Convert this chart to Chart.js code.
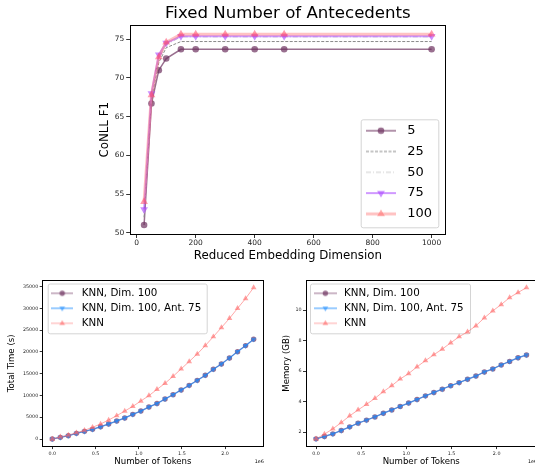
<!DOCTYPE html>
<html><head><meta charset="utf-8">
<script src="https://cdn.jsdelivr.net/npm/chart.js"></script>
<style>
html,body{margin:0;padding:0;width:535px;height:468px;overflow:hidden;background:#fff;}
canvas{position:absolute;}
</style></head><body>
<canvas id="top" width="535" height="268" style="left:0;top:0"></canvas>
<canvas id="bl" width="270" height="198" style="left:0;top:270px"></canvas>
<canvas id="br" width="285" height="198" style="left:270px;top:270px"></canvas>
<script>
// ---------- data ----------
const dims = [25, 50, 75, 100, 150, 200, 300, 400, 500, 1000];
const antLabels = ['5', '25', '50', '75', '100'];
const f1Ant5   = [51.0, 66.7, 71.0, 72.5, 73.7, 73.7, 73.7, 73.7, 73.7, 73.7];
const f1Ant25  = [52.0, 67.2, 72.0, 73.9, 74.7, 74.7, 74.7, 74.7, 74.7, 74.7];
const f1Ant50  = [52.5, 67.6, 72.5, 74.3, 75.3, 75.3, 75.3, 75.3, 75.3, 75.3];
const f1Ant75  = [53.0, 68.0, 73.0, 74.5, 75.4, 75.4, 75.4, 75.4, 75.4, 75.4];
const f1Ant100 = [54.0, 67.8, 72.7, 74.6, 75.65, 75.65, 75.65, 75.65, 75.65, 75.65];
const dimTicks = [0, 200, 400, 600, 800, 1000];
const f1Ticks = [50, 55, 60, 65, 70, 75];

const tokens = [0, 93200, 186400, 279600, 372800, 466000, 559200, 652400, 745600, 838800,
  932000, 1025200, 1118400, 1211600, 1304800, 1398000, 1491200, 1584400, 1677600, 1770800,
  1864000, 1957200, 2050400, 2143600, 2236800, 2330000];
const bottomLabels = ['KNN, Dim. 100', 'KNN, Dim. 100, Ant. 75', 'KNN'];
const timeDim100 = [0, 380, 770, 1300, 1760, 2220, 2830, 3450, 4140, 4830, 5670, 6430, 7350,
  8150, 9190, 10190, 11260, 12330, 13480, 14630, 16010, 17240, 18610, 20070, 21450, 22900];
const timeDim100Ant75 = [0, 380, 770, 1300, 1760, 2220, 2830, 3450, 4140, 4830, 5670, 6430, 7350,
  8150, 9190, 10190, 11260, 12330, 13480, 14630, 16010, 17240, 18610, 20070, 21450, 22900];
const timeKNN = [0, 500, 900, 1450, 2000, 2700, 3450, 4370, 5360, 6430, 7500, 8730, 9960,
  11400, 12800, 14400, 16100, 17800, 19530, 21450, 23500, 25600, 27700, 30000, 32250, 34780];
const memDim100 = [1.56, 1.72, 1.89, 2.11, 2.35, 2.59, 2.79, 3.00, 3.24, 3.46, 3.69, 3.91, 4.14,
  4.38, 4.60, 4.82, 5.05, 5.25, 5.47, 5.68, 5.95, 6.15, 6.41, 6.64, 6.88, 7.06];
const memDim100Ant75 = [1.56, 1.72, 1.89, 2.11, 2.35, 2.59, 2.79, 3.00, 3.24, 3.46, 3.69, 3.91, 4.14,
  4.38, 4.60, 4.82, 5.05, 5.25, 5.47, 5.68, 5.95, 6.15, 6.41, 6.64, 6.88, 7.06];
const memKNN = [1.56, 1.87, 2.22, 2.63, 3.07, 3.46, 3.83, 4.22, 4.66, 5.05, 5.49, 5.84, 6.29,
  6.69, 7.08, 7.45, 7.86, 8.26, 8.58, 8.98, 9.50, 9.96, 10.37, 10.83, 11.16, 11.48];
const tokenTicks = [0, 500000, 1000000, 1500000, 2000000];
const timeTicks = [0, 5000, 10000, 15000, 20000, 25000, 30000, 35000];
const memTicks = [2, 4, 6, 8, 10];

// ---------- styling helpers ----------
Chart.defaults.font.family = "'DejaVu Sans', 'Liberation Sans', sans-serif";
Chart.defaults.color = '#000';
const pts = (xs, ys) => xs.map((x, i) => ({x, y: ys[i]}));

const C = {
  mauve: 'rgba(110,50,95,0.7)',
  gray: '#8a8a8a',
  light: '#cfcfcf',
  purpleL: 'rgba(170,70,255,0.55)',
  purpleM: 'rgba(170,70,255,0.6)',
  pinkL: 'rgba(255,110,110,0.42)',
  pinkM: 'rgba(255,75,110,0.55)',
  blueL: 'rgba(30,140,255,0.6)',
  blueM: 'rgba(30,140,255,0.6)',
  salmonL: 'rgba(255,100,100,0.55)',
  salmonM: 'rgba(255,100,100,0.6)'
};

function drawMarker(x, cx, cy, kind, r) {
  x.beginPath();
  if (kind === 'circle') { x.arc(cx, cy, r, 0, Math.PI * 2); }
  else {
    const s = kind === 'up' ? 1 : -1, k = Math.sin(Math.PI / 3) * r;
    x.moveTo(cx, cy - s * r); x.lineTo(cx + k, cy + s * r / 2); x.lineTo(cx - k, cy + s * r / 2); x.closePath();
  }
  x.fill();
}
function swatch(w, o) {
  const c = document.createElement('canvas'); c.width = w; c.height = 16;
  const x = c.getContext('2d');
  x.strokeStyle = o.color; x.lineWidth = o.lw; x.setLineDash(o.dash || []);
  x.beginPath(); x.moveTo(0, 8); x.lineTo(w, 8); x.stroke(); x.setLineDash([]);
  if (o.marker) { x.fillStyle = o.mcolor; drawMarker(x, w / 2, 8, o.marker, o.r); }
  return c;
}
function legendItems(labels, sw) {
  return () => labels.map((t, i) => ({text: t, pointStyle: sw[i], fillStyle: 'rgba(0,0,0,0)',
    strokeStyle: 'rgba(0,0,0,0)', lineWidth: 0, hidden: false, datasetIndex: i, fontColor: '#000'}));
}
const spines = {id: 'spines', afterDatasetsDraw(chart) {
  const {ctx, chartArea: a} = chart; ctx.save(); ctx.strokeStyle = '#000'; ctx.lineWidth = 1;
  const l = Math.round(a.left) + 0.5, t = Math.round(a.top) + 0.5, r = Math.round(a.right) - 0.5, b = Math.round(a.bottom) - 0.5;
  ctx.strokeRect(l, t, r - l, b - t); ctx.restore();
}};
function frameAndPlace(frame, lx, ly) {
  return {id: 'frameAndPlace',
    afterLayout(chart) { const lg = chart.legend; const w = lg.width, h = lg.height;
      lg.left = lx; lg.top = ly; lg.right = lx + w; lg.bottom = ly + h; },
    beforeDraw(chart) { const ctx = chart.ctx; const [x0, y0, x1, y1] = frame; ctx.save();
      ctx.fillStyle = 'rgba(255,255,255,0.8)'; ctx.strokeStyle = '#d4d4d4'; ctx.lineWidth = 1;
      ctx.beginPath(); ctx.roundRect(x0 + 0.5, y0 + 0.5, x1 - x0, y1 - y0, 2); ctx.fill(); ctx.stroke(); ctx.restore(); }
  };
}
const setTicks = arr => s => { s.ticks = arr.map(v => ({value: v})); };
function axis(o) {
  return {type: 'linear', min: o.min, max: o.max, position: o.pos,
    afterBuildTicks: setTicks(o.ticks),
    afterFit: o.pos === 'left' ? (s => { s.width = o.size; }) : (s => { s.height = o.size; }),
    grid: {display: true, drawOnChartArea: false, drawTicks: true, tickLength: o.tl, color: '#000', lineWidth: 0.8},
    border: {display: false},
    ticks: {font: {size: o.fs}, padding: o.tp, color: '#222', autoSkip: false, maxRotation: 0,
      callback: o.fmt || (v => String(v))},
    title: {display: true, text: o.title, font: {size: o.tfs}, color: '#000', padding: o.tpad}
  };
}

// ---------- top chart ----------
const topSw = [
  swatch(30, {color: C.mauve, lw: 1.5, marker: 'circle', mcolor: C.mauve, r: 3.3}),
  swatch(30, {color: C.gray, lw: 1, dash: [3, 1.5]}),
  swatch(30, {color: C.light, lw: 1, dash: [5, 2, 1, 2]}),
  swatch(30, {color: C.purpleL, lw: 2, marker: 'down', mcolor: C.purpleM, r: 4.5}),
  swatch(30, {color: C.pinkL, lw: 3, marker: 'up', mcolor: 'rgba(255,110,110,0.55)', r: 4.5})
];
new Chart(document.getElementById('top'), {
  type: 'line',
  data: {datasets: [
    {label: antLabels[0], data: pts(dims, f1Ant5), borderColor: C.mauve, borderWidth: 1.5, pointStyle: 'circle',
      pointRadius: 3.3, pointBackgroundColor: C.mauve, pointBorderWidth: 0, order: 4},
    {label: antLabels[1], data: pts(dims, f1Ant25), borderColor: C.gray, borderWidth: 1, borderDash: [3, 1.5], pointRadius: 0, order: 3},
    {label: antLabels[2], data: pts(dims, f1Ant50), borderColor: C.light, borderWidth: 1, borderDash: [5, 2, 1, 2], pointRadius: 0, order: 2},
    {label: antLabels[3], data: pts(dims, f1Ant75), borderColor: C.purpleL, borderWidth: 2, pointStyle: 'triangle', pointRotation: 180,
      pointRadius: 4.5, pointBackgroundColor: C.purpleM, pointBorderWidth: 0, order: 1},
    {label: antLabels[4], data: pts(dims, f1Ant100), borderColor: C.pinkL, borderWidth: 3, pointStyle: 'triangle',
      pointRadius: 4.5, pointBackgroundColor: C.pinkM, pointBorderWidth: 0, order: 0}
  ]},
  options: {
    responsive: false, animation: false, devicePixelRatio: 1,
    layout: {padding: {left: 0, right: 89, top: 0, bottom: 0}},
    elements: {line: {tension: 0}},
    scales: {
      x: axis({min: -23.75, max: 1048.75, pos: 'bottom', ticks: dimTicks, size: 33.5, tl: 3.5, fs: 7.5, tp: 1,
        title: 'Reduced Embedding Dimension', tfs: 11.8, tpad: {top: 0, bottom: 5.4}}),
      y: axis({min: 49.77, max: 76.83, pos: 'left', ticks: f1Ticks, size: 129.7, tl: 3.5, fs: 7.5, tp: 2,
        title: 'CoNLL F1', tfs: 11.8, tpad: {top: 97.9, bottom: 0}})
    },
    plugins: {
      title: {display: true, text: 'Fixed Number of Antecedents', font: {size: 16.6, weight: 'normal'}, color: '#000',
        padding: {top: 4.04, bottom: 1.1}, fullSize: false},
      legend: {display: true, position: 'chartArea', align: 'start',
        labels: {usePointStyle: true, pointStyleWidth: 39.6, padding: 7.8, font: {size: 13}, color: '#000',
          generateLabels: legendItems(antLabels, topSw)}},
      tooltip: {enabled: false}
    }
  },
  plugins: [spines, frameAndPlace([360.7, 119.3, 438.3, 227.3], 353.4, 116.4)]
});

// ---------- bottom charts ----------
function bottomChart(id, yVals, yTicks, yMin, yMax, yTitle, yW, yTitlePad, padRight, frame, lx, swW, bw) {
  const sw = [
    swatch(swW, {color: C.mauve, lw: 1, marker: 'circle', mcolor: C.mauve, r: 2.7}),
    swatch(swW, {color: C.blueL, lw: 1.5, marker: 'down', mcolor: C.blueM, r: 3.3}),
    swatch(swW, {color: C.salmonL, lw: 1, marker: 'up', mcolor: C.salmonM, r: 3.3})
  ];
  const xa = axis({min: -116500, max: 2446500, pos: 'bottom', ticks: tokenTicks, size: 21.4, tl: 2.5, fs: 4.8, tp: 1.3,
    title: 'Number of Tokens', tfs: 8.6, tpad: {top: 0, bottom: 0.84}, fmt: v => (v / 1e6).toFixed(1)});
  const ya = axis({min: yMin, max: yMax, pos: 'left', ticks: yTicks, size: yW, tl: 2.5, fs: 4.8, tp: 1.5,
    title: yTitle, tfs: 8.6, tpad: {top: yTitlePad, bottom: 0}});
  new Chart(document.getElementById(id), {
    type: 'line',
    data: {datasets: [
      {label: bottomLabels[0], data: pts(tokens, yVals[0]), xAxisID: 'x', yAxisID: 'y', borderColor: C.mauve, borderWidth: 1,
        pointStyle: 'circle', pointRadius: 2.7, pointBackgroundColor: C.mauve, pointBorderWidth: 0, order: 2},
      {label: bottomLabels[1], data: pts(tokens, yVals[1]), xAxisID: 'x', yAxisID: 'y', borderColor: C.blueL, borderWidth: 1.5,
        pointStyle: 'triangle', pointRotation: 180, pointRadius: 3.3, pointBackgroundColor: C.blueM, pointBorderWidth: 0, order: 1},
      {label: bottomLabels[2], data: pts(tokens, yVals[2]), xAxisID: 'x', yAxisID: 'y', borderColor: C.salmonL, borderWidth: 1,
        pointStyle: 'triangle', pointRadius: 3.3, pointBackgroundColor: C.salmonM, pointBorderWidth: 0, order: 0}
    ]},
    options: {
      responsive: false, animation: false, devicePixelRatio: 1,
      layout: {padding: {left: 0, right: padRight, top: 10, bottom: 0}},
      elements: {line: {tension: 0}},
      scales: {
        x: xa, y: ya,
        x2: {type: 'linear', position: 'bottom', weight: 10, display: true, grid: {display: false}, border: {display: false},
          ticks: {display: false}, afterFit: s => { s.height = 0; },
          title: {display: true, text: '1e6', align: 'end', font: {size: 4.8}, color: '#000', padding: {top: 0, bottom: 3.4}}}
      },
      plugins: {
        title: {display: false},
        legend: {display: true, position: 'chartArea', align: 'start',
          labels: {usePointStyle: true, pointStyleWidth: bw, padding: 4.7, font: {size: 10.3}, color: '#000',
            generateLabels: legendItems(bottomLabels, sw)}},
        tooltip: {enabled: false}
      }
    },
    plugins: [spines, frameAndPlace(frame, lx, 13.45)]
  });
}
bottomChart('bl', [timeDim100, timeDim100Ant75, timeKNN], timeTicks, -1739, 36519, 'Total Time (s)', 42.2, 7.1, 6.3,
  [47.7, 13.5, 206.7, 63.3], 43.15, 22, 28.7);
bottomChart('br', [memDim100, memDim100Ant75, memKNN], memTicks, 1.053, 11.98, 'Memory (GB)', 35.5, 11.5, 18,
  [40, 13.5, 200, 63.3], 37.15, 23, 27);
</script>
</body></html>
